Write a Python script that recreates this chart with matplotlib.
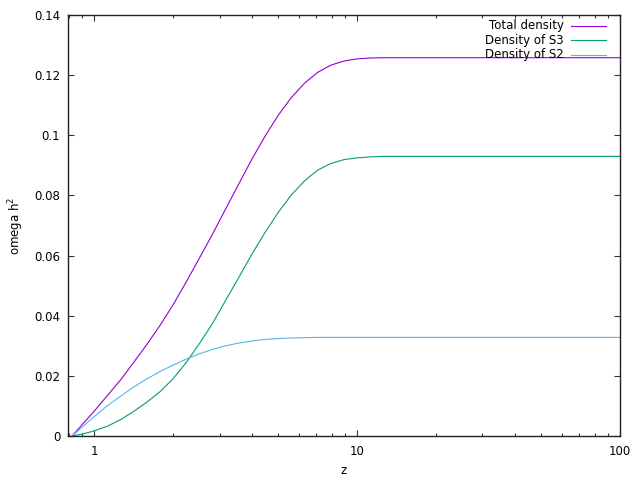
import numpy as np
import matplotlib.pyplot as plt
from matplotlib.ticker import LogLocator, FixedLocator, NullFormatter

# values
z = [0.825, 0.91, 1.0, 1.12, 1.26, 1.41, 1.58, 1.78, 2.0, 2.24, 2.51, 2.82,
     3.16, 3.55, 3.98, 4.47, 5.01, 5.62, 6.31, 7.08, 7.94, 8.91, 10.0, 11.2,
     12.6, 15.8, 31.6, 100.0]
total_density = [0.0, 0.0042, 0.0082, 0.0133, 0.0186, 0.0243, 0.0302, 0.0367,
                 0.0437, 0.0512, 0.0590, 0.0671, 0.0754, 0.0838, 0.0920,
                 0.0997, 0.1066, 0.1125, 0.1173, 0.1209, 0.1233, 0.1247,
                 0.1254, 0.1257, 0.1258, 0.1258, 0.1258, 0.1258]
density_s3 = [0.0, 0.0007, 0.0017, 0.0032, 0.0054, 0.0081, 0.0111, 0.0147,
              0.0191, 0.0244, 0.0306, 0.0374, 0.0450, 0.0527, 0.0604, 0.0677,
              0.0743, 0.0801, 0.0848, 0.0884, 0.0906, 0.0919, 0.0925, 0.0928,
              0.0930, 0.0930, 0.0930, 0.0930]
density_s2 = [0.0, 0.0033, 0.0064, 0.0100, 0.0132, 0.0162, 0.0189, 0.0214,
              0.0236, 0.0256, 0.0273, 0.0288, 0.0300, 0.0309, 0.0316, 0.0321,
              0.0324, 0.0326, 0.0327, 0.0328, 0.0328, 0.0328, 0.0328, 0.0328,
              0.0328, 0.0328, 0.0328, 0.0328]
labels = ["Total density", "Density of S3", "Density of S2"]
colors = ["#9400d3", "#009e73", "#56b4e9"]
yticks = [0, 0.02, 0.04, 0.06, 0.08, 0.1, 0.12, 0.14]
ytick_labels = ["0", "0.02", "0.04", "0.06", "0.08", "0.1", "0.12", "0.14"]

fs = 8.5
fig = plt.figure(figsize=(6.4, 4.8), dpi=100)
ax = fig.add_axes([68 / 640, 44 / 480, 552 / 640, 421 / 480])

series = [total_density, density_s3, density_s2]
for vals, col in zip(series, colors):
    ax.plot(z, vals, color=col, lw=0.8)

ax.set_xscale("log")
ax.set_xlim(0.796, 100)
ax.set_ylim(0, 0.14)
ax.xaxis.set_major_locator(FixedLocator([1, 10, 100]))
ax.set_xticklabels(["1", "10", "100"])
ax.xaxis.set_minor_locator(LogLocator(base=10, subs=np.arange(2, 10)))
ax.xaxis.set_minor_formatter(NullFormatter())
ax.set_yticks(yticks)
ax.set_yticklabels(ytick_labels)

ax.tick_params(which="both", direction="in", top=True, right=True,
               labelsize=fs, color="#333333")
ax.tick_params(which="major", length=4.5, width=0.8)
ax.tick_params(which="minor", length=2.3, width=0.8)
ax.tick_params(axis="y", pad=5.5)
ax.tick_params(axis="x", pad=6.5)
for sp in ax.spines.values():
    sp.set_linewidth(1.0)
    sp.set_color("#222222")

ax.set_xlabel("z", fontsize=fs, labelpad=4)
ax.set_ylabel("omega h$^2$", fontsize=fs, labelpad=6)

# gnuplot-style key: right-justified text, sample line after it
for i, (lab, col) in enumerate(zip(labels, colors)):
    ypix = 26 + i * 14.3
    yax = (436 - ypix) / 421
    ax.text((564 - 68) / 552, yax, lab, transform=ax.transAxes,
            ha="right", va="center", fontsize=fs)
    ax.plot([(571 - 68) / 552, (606 - 68) / 552], [yax, yax],
            transform=ax.transAxes, color=col, lw=0.8, clip_on=False)

fig.savefig("out.png", dpi=100)
